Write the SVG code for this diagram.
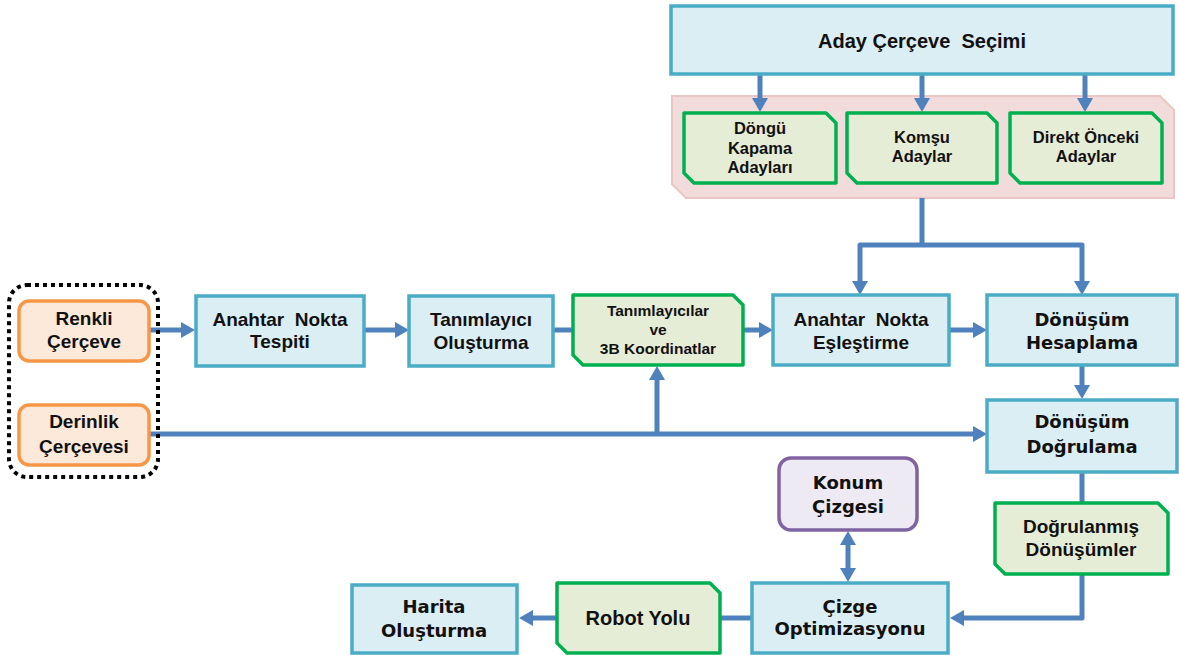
<svg xmlns="http://www.w3.org/2000/svg" width="1179" height="655" viewBox="0 0 1179 655">
  <style>
    .proc { fill: #dbeef4; stroke: #4bacc6; stroke-width: 3.5; }
    .data { fill: #e6edd6; stroke: #00b050; stroke-width: 3.5; stroke-linejoin: round; }
    .src { fill: #fde9d9; stroke: #f79646; stroke-width: 3.5; }
    .graph { fill: #eeeaf3; stroke: #8064a2; stroke-width: 3.5; }
    .group { fill: #f2dcdb; stroke: #ebc6c5; stroke-width: 2; }
    .frame { fill: none; stroke: #000; stroke-width: 4; stroke-dasharray: 4 4; }
    .wire { fill: none; stroke: #4f81bd; stroke-width: 5; stroke-linejoin: round; }
    .arrow { marker-end: url(#head); }
    .both { marker-start: url(#tail); marker-end: url(#head); }
    text { font-family: "Liberation Sans", Arial, sans-serif; font-weight: bold; fill: #111; text-anchor: middle; }
    .t19 { font-size: 19px; }
    .t16 { font-size: 16.5px; }
    .t15 { font-size: 15.5px; }
    .t20 { font-size: 20px; }
    .dv { font-family: "DejaVu Sans", Verdana, sans-serif; font-size: 18px; }
  </style>
  <defs>
    <marker id="head" markerUnits="userSpaceOnUse" markerWidth="16" markerHeight="16" refX="3" refY="8" orient="auto">
      <path d="M0,0 L14,8 L0,16 Z" fill="#4f81bd"/>
    </marker>
    <marker id="tail" markerUnits="userSpaceOnUse" markerWidth="16" markerHeight="16" refX="3" refY="8" orient="auto-start-reverse">
      <path d="M0,0 L14,8 L0,16 Z" fill="#4f81bd"/>
    </marker>
  </defs>

  <!-- candidate group background -->
  <g id="candidate-group">
    <polygon class="group" points="672,96 1160,96 1174,110 1174,198 686,198 672,184"/>
  </g>

  <!-- connectors -->
  <g id="connectors">
    <path class="wire arrow" d="M760,74 V101"/>
    <path class="wire arrow" d="M922,74 V101"/>
    <path class="wire arrow" d="M1085,74 V101"/>
    <path class="wire" d="M922,198 V245"/>
    <path class="wire arrow" d="M922,245 H860 V284"/>
    <path class="wire arrow" d="M922,245 H1082 V284"/>
    <path class="wire arrow" d="M149,330 H184"/>
    <path class="wire arrow" d="M364,330 H398"/>
    <path class="wire" d="M553,330 H573"/>
    <path class="wire arrow" d="M743,330 H762"/>
    <path class="wire arrow" d="M949,330 H976"/>
    <path class="wire arrow" d="M1082,366 V388"/>
    <path class="wire arrow" d="M149,434 H976"/>
    <path class="wire arrow" d="M657,434 V377"/>
    <path class="wire arrow" d="M1082,472 V618 H961"/>
    <path class="wire both" d="M848,542 V571"/>
    <path class="wire" d="M752,618 H720"/>
    <path class="wire arrow" d="M557,618 H530"/>
  </g>

  <g id="aday-cerceve-secimi">
    <rect class="proc" x="671" y="6" width="502" height="68"/>
    <text class="t20" x="922" y="48" xml:space="preserve">Aday Çerçeve  Seçimi</text>
  </g>

  <g id="dongu-kapama">
    <path class="data" d="M684,113 H826 L836,123 V183 H694 L684,173 Z"/>
    <text class="t16" x="760" y="134">Döngü</text>
    <text class="t16" x="760" y="154">Kapama</text>
    <text class="t16" x="760" y="173">Adayları</text>
  </g>

  <g id="komsu-adaylar">
    <path class="data" d="M847,113 H987 L997,123 V183 H857 L847,173 Z"/>
    <text class="t16" x="922" y="143">Komşu</text>
    <text class="t16" x="922" y="162">Adaylar</text>
  </g>

  <g id="direkt-onceki">
    <path class="data" d="M1010,113 H1152 L1162,123 V183 H1020 L1010,173 Z"/>
    <text class="t16" x="1086" y="143">Direkt Önceki</text>
    <text class="t16" x="1086" y="162">Adaylar</text>
  </g>

  <g id="input-frames">
    <rect class="frame" x="9" y="285" width="149" height="192" rx="18"/>
  </g>

  <g id="renkli-cerceve">
    <rect class="src" x="19" y="301" width="130" height="60" rx="10"/>
    <text class="t19" x="84" y="325">Renkli</text>
    <text class="t19" x="84" y="348">Çerçeve</text>
  </g>

  <g id="derinlik-cercevesi">
    <rect class="src" x="19" y="405" width="130" height="60" rx="10"/>
    <text class="t19" x="84" y="428">Derinlik</text>
    <text class="t19" x="84" y="453">Çerçevesi</text>
  </g>

  <g id="anahtar-nokta-tespiti">
    <rect class="proc" x="196" y="296" width="168" height="70"/>
    <text class="t19" x="280" y="326" xml:space="preserve">Anahtar  Nokta</text>
    <text class="t19" x="280" y="348">Tespiti</text>
  </g>

  <g id="tanimlayici-olusturma">
    <rect class="proc" x="409" y="296" width="144" height="70"/>
    <text class="t19" x="481" y="326">Tanımlayıcı</text>
    <text class="t19" x="481" y="349">Oluşturma</text>
  </g>

  <g id="tanimlayicilar-3b">
    <path class="data" d="M573,295 H733 L743,305 V365 H583 L573,355 Z"/>
    <text class="t15" x="658" y="316">Tanımlayıcılar</text>
    <text class="t15" x="658" y="335">ve</text>
    <text class="t15" x="658" y="354">3B Koordinatlar</text>
  </g>

  <g id="anahtar-nokta-eslestirme">
    <rect class="proc" x="773" y="295" width="176" height="70"/>
    <text class="t19" x="861" y="326" xml:space="preserve">Anahtar  Nokta</text>
    <text class="t19" x="861" y="349">Eşleştirme</text>
  </g>

  <g id="donusum-hesaplama">
    <rect class="proc" x="987" y="295" width="190" height="70"/>
    <text class="dv" x="1082" y="326">Dönüşüm</text>
    <text class="dv" x="1082" y="349">Hesaplama</text>
  </g>

  <g id="donusum-dogrulama">
    <rect class="proc" x="987" y="400" width="190" height="72"/>
    <text class="dv" x="1082" y="428">Dönüşüm</text>
    <text class="dv" x="1082" y="453">Doğrulama</text>
  </g>

  <g id="dogrulanmis-donusumler">
    <path class="data" d="M995,503 H1158 L1168,513 V574 H1005 L995,564 Z"/>
    <text class="t19" x="1081" y="533">Doğrulanmış</text>
    <text class="t19" x="1081" y="556">Dönüşümler</text>
  </g>

  <g id="konum-cizgesi">
    <rect class="graph" x="779" y="458" width="138" height="72" rx="12"/>
    <text class="dv" x="848" y="489">Konum</text>
    <text class="dv" x="848" y="513">Çizgesi</text>
  </g>

  <g id="cizge-optimizasyonu">
    <rect class="proc" x="752" y="583" width="196" height="70"/>
    <text class="dv" x="850" y="613">Çizge</text>
    <text class="dv" x="850" y="635">Optimizasyonu</text>
  </g>

  <g id="robot-yolu">
    <path class="data" d="M557,583 H710 L720,593 V653 H567 L557,643 Z"/>
    <text class="t20" x="638" y="625">Robot Yolu</text>
  </g>

  <g id="harita-olusturma">
    <rect class="proc" x="352" y="585" width="165" height="68"/>
    <text class="dv" x="434" y="613">Harita</text>
    <text class="dv" x="434" y="637">Oluşturma</text>
  </g>
</svg>
